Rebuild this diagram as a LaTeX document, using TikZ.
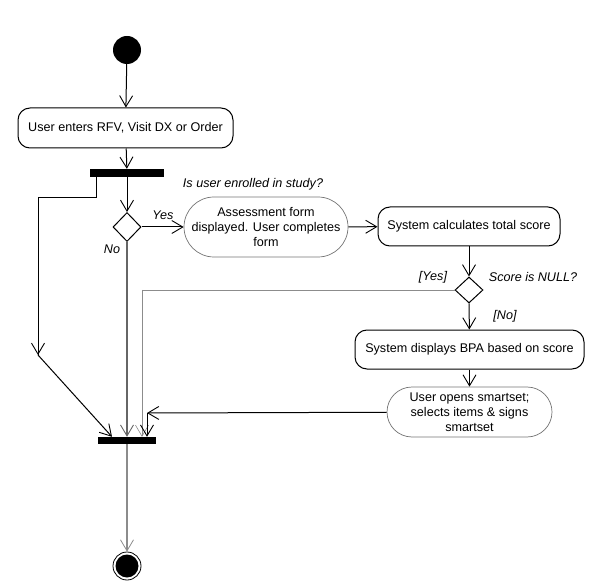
\documentclass[tikz,border=0pt]{standalone}
\usepackage{fontspec}
\setmainfont{Liberation Sans}
\usetikzlibrary{arrows.meta,shapes.geometric}
\begin{document}
\begin{tikzpicture}[x=1pt,y=-1pt,
  font=\fontsize{12.6}{15}\selectfont,
  vee/.tip={Straight Barb[length=11pt,width=13pt,line width=0.9pt]},
  flow/.style={draw=black,line width=1pt,-{vee}},
  plain/.style={draw=black,line width=1pt},
  act/.style={draw=black,line width=1pt,rounded corners=12pt,align=center,inner sep=2pt},
  pill/.style={draw=black!55,line width=0.7pt,align=center,inner sep=2pt},
  bar/.style={fill=black,draw=none,inner sep=0pt},
  dec/.style={diamond,draw=black,line width=1pt,inner sep=0pt},
  lab/.style={font=\fontsize{12.6}{15}\selectfont\itshape,inner sep=0pt}]
\useasboundingbox (0,0) rectangle (600,588);
% nodes
\node[circle,fill=black,minimum size=28pt,inner sep=0pt] (start) at (127,50) {};
\node[act,minimum width=215pt,minimum height=40pt] (enter) at (125.5,128) {User enters RFV, Visit DX or Order};
\node[bar,minimum width=74pt,minimum height=8pt] (fork) at (127,173) {};
\node[dec,minimum width=28pt,minimum height=29pt] (d1) at (127,227) {};
\node[pill,rounded corners=30pt,minimum width=164pt,minimum height=60pt] (assess) at (266,227) {Assessment form\\displayed. User completes\\form};
\node[act,minimum width=182pt,minimum height=39pt] (calc) at (469,226.5) {System calculates total score};
\node[dec,minimum width=28pt,minimum height=26pt] (d2) at (469,290) {};
\node[act,minimum width=229pt,minimum height=39pt] (bpa) at (469.5,349.5) {System displays BPA based on score};
\node[pill,rounded corners=25pt,minimum width=165pt,minimum height=50pt] (smart) at (469.5,412) {User opens smartset;\\selects items \& signs\\smartset};
\node[bar,minimum width=58pt,minimum height=7pt] (join) at (127,440.5) {};
\node[circle,draw=black,line width=0.8pt,minimum size=28pt,inner sep=0pt] (end) at (127,566) {};
\node[circle,fill=black,minimum size=23pt,inner sep=0pt] at (end.center) {};
% labels
\node[lab] (q1) at (253,184) {Is user enrolled in study?};
\node[lab] (lyes) at (163,215) {Yes};
\node[lab] (lno) at (112,249) {No};
\node[lab] (lyes2) at (433,277) {[Yes]};
\node[lab] (q2) at (533,277) {Score is NULL?};
\node[lab] (lno2) at (505,316) {[No]};
% bend points
\coordinate (a1) at (96,198);
\coordinate (a2) at (38,198);
\coordinate (a3) at (38,355);
\coordinate (a4) at (112,437);
\coordinate (g1) at (142,290);
\coordinate (s1) at (147,413);
% connectors
\draw[flow] (start) -- (enter);
\draw[flow] (enter) -- (fork);
\draw[flow] (fork) -- (d1);
\draw[flow] (d1) -- (assess);
\draw[flow] (assess) -- (calc);
\draw[flow] (calc) -- (d2);
\draw[flow] (d2) -- (bpa);
\draw[flow] (bpa) -- (smart);
\draw[plain] (fork.south -| a1) -- (a1) -- (a2) -- (a3);
\draw[flow] (a2) -- (a3);
\draw[flow] (a3) -- (join.north -| a4);
\draw[draw=black!60,line width=1.6pt,-{Straight Barb[length=11pt,width=13pt,line width=0.9pt]}] (d1) -- (join);
\draw[draw=black!45,line width=0.6pt] (d2) -- (g1);
\draw[draw=black!45,line width=0.6pt,-{Straight Barb[length=11pt,width=13pt,line width=0.6pt]}] (g1) -- (join.north -| g1);
\draw[flow] (smart) -- (s1);
\draw[flow] (s1) -- (join.north -| s1);
\draw[draw=black!45,line width=1.4pt,-{Straight Barb[length=11pt,width=13pt,line width=0.8pt]}] (join) -- (end);
\end{tikzpicture}
\end{document}
